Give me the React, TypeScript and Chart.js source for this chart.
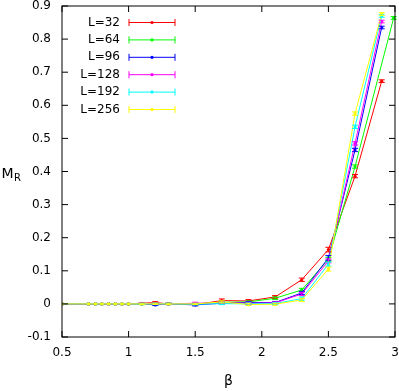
import React, { useEffect, useRef } from "react";
import { Chart, registerables } from "chart.js";

Chart.register(...registerables);

// ---- data ----
const betaCommon = [0.5, 0.7, 0.75, 0.8, 0.85, 0.9, 0.95, 1.0, 1.1, 1.2, 1.3, 1.5, 1.7, 1.9, 2.1, 2.3, 2.5, 2.7, 2.9];
const betaL64 = [0.5, 0.7, 0.75, 0.8, 0.85, 0.9, 0.95, 1.0, 1.1, 1.2, 1.3, 1.5, 1.7, 1.9, 2.1, 2.3, 2.5, 2.7, 2.99];

const seriesLabels = ["L=32", "L=64", "L=96", "L=128", "L=192", "L=256"];
const seriesColors = ["#ff0000", "#00ff00", "#0000ff", "#ff00ff", "#00ffff", "#ffff00"];

const mL32 = [0, 0, 0, 0, 0, 0, 0, 0, 0.002, 0.004, 0.0, -0.002, 0.010, 0.009, 0.021, 0.073, 0.164, 0.386, 0.673];
const mL64 = [0, 0, 0, 0, 0, 0, 0, 0, 0.0, 0.001, 0.0, 0.0, 0.005, 0.006, 0.017, 0.042, 0.135, 0.415, 0.864];
const mL96 = [0, 0, 0, 0, 0, 0, 0, 0, 0.0, -0.003, 0.0, -0.003, 0.002, 0.004, 0.004, 0.033, 0.139, 0.465, 0.835];
const mL128 = [0, 0, 0, 0, 0, 0, 0, 0, 0.001, 0.001, 0.0, 0.002, 0.003, 0.002, 0.003, 0.030, 0.130, 0.485, 0.853];
const mL192 = [0, 0, 0, 0, 0, 0, 0, 0, 0.0, 0.0, 0.0, -0.001, 0.001, 0.0, 0.001, 0.016, 0.120, 0.535, 0.870];
const mL256 = [0, 0, 0, 0, 0, 0, 0, 0, 0.0, 0.0, 0.0, 0.0, 0.006, -0.002, -0.001, 0.012, 0.105, 0.575, 0.876];

const eL32 = [0, 0, 0, 0, 0, 0, 0, 0, 0.002, 0.003, 0.002, 0.003, 0.005, 0.004, 0.004, 0.005, 0.007, 0.005, 0.004];
const eL64 = [0, 0, 0, 0, 0, 0, 0, 0, 0.002, 0.002, 0.002, 0.003, 0.003, 0.003, 0.004, 0.005, 0.006, 0.005, 0.004];
const eL96 = [0, 0, 0, 0, 0, 0, 0, 0, 0.002, 0.002, 0.002, 0.003, 0.003, 0.003, 0.003, 0.005, 0.007, 0.005, 0.004];
const eL128 = [0, 0, 0, 0, 0, 0, 0, 0, 0.002, 0.002, 0.002, 0.003, 0.003, 0.003, 0.003, 0.005, 0.006, 0.005, 0.004];
const eL192 = [0, 0, 0, 0, 0, 0, 0, 0, 0.002, 0.002, 0.002, 0.002, 0.003, 0.003, 0.003, 0.005, 0.006, 0.005, 0.004];
const eL256 = [0, 0, 0, 0, 0, 0, 0, 0, 0.002, 0.002, 0.002, 0.002, 0.003, 0.003, 0.003, 0.005, 0.006, 0.005, 0.004];

const xTicks = [0.5, 1, 1.5, 2, 2.5, 3];
const yTicks = [-0.1, 0, 0.1, 0.2, 0.3, 0.4, 0.5, 0.6, 0.7, 0.8, 0.9];

const seriesBeta = [betaCommon, betaL64, betaCommon, betaCommon, betaCommon, betaCommon];
const seriesM = [mL32, mL64, mL96, mL128, mL192, mL256];
const seriesE = [eL32, eL64, eL96, eL128, eL192, eL256];

const FONT = "'DejaVu Sans', sans-serif";

function fmt(v: number) {
  const r = Math.round(v * 10) / 10;
  return Math.abs(r) < 1e-9 ? "0" : String(r);
}

const decorPlugin = {
  id: "decor",
  afterDatasetsDraw(chart: any) {
    const ctx = chart.ctx;
    const xs = chart.scales.x;
    const ys = chart.scales.y;
    ctx.save();
    ctx.lineWidth = 1;
    for (let i = 0; i < seriesLabels.length; i++) {
      ctx.strokeStyle = seriesColors[i];
      const b = seriesBeta[i], m = seriesM[i], e = seriesE[i];
      for (let j = 0; j < b.length; j++) {
        if (!e[j]) continue;
        const px = xs.getPixelForValue(b[j]);
        const y1 = ys.getPixelForValue(m[j] - e[j]);
        const y2 = ys.getPixelForValue(m[j] + e[j]);
        ctx.beginPath();
        ctx.moveTo(px, y1);
        ctx.lineTo(px, y2);
        ctx.moveTo(px - 3, y1);
        ctx.lineTo(px + 3, y1);
        ctx.moveTo(px - 3, y2);
        ctx.lineTo(px + 3, y2);
        ctx.stroke();
      }
    }
    ctx.restore();
  },
  afterDraw(chart: any) {
    const ctx = chart.ctx;
    const a = chart.chartArea;
    const xs = chart.scales.x;
    const ys = chart.scales.y;
    ctx.save();
    // border
    ctx.strokeStyle = "#000";
    ctx.lineWidth = 1;
    ctx.strokeRect(a.left, a.top, a.right - a.left, a.bottom - a.top);
    // inward ticks
    ctx.beginPath();
    const tl = 6;
    yTicks.forEach((v) => {
      const py = ys.getPixelForValue(v);
      ctx.moveTo(a.left, py);
      ctx.lineTo(a.left + tl, py);
      ctx.moveTo(a.right, py);
      ctx.lineTo(a.right - tl, py);
    });
    xTicks.forEach((v) => {
      const px = xs.getPixelForValue(v);
      ctx.moveTo(px, a.bottom);
      ctx.lineTo(px, a.bottom - tl);
      ctx.moveTo(px, a.top);
      ctx.lineTo(px, a.top + tl);
    });
    ctx.stroke();

    // legend (gnuplot style)
    ctx.font = `12px ${FONT}`;
    ctx.textAlign = "right";
    ctx.textBaseline = "middle";
    for (let i = 0; i < seriesLabels.length; i++) {
      const y = 22.5 + i * 17.4;
      ctx.fillStyle = "#000";
      ctx.fillText(seriesLabels[i], 120, y);
      ctx.strokeStyle = seriesColors[i];
      ctx.lineWidth = 1;
      ctx.beginPath();
      ctx.moveTo(129, y);
      ctx.lineTo(175, y);
      ctx.moveTo(129, y - 3.5);
      ctx.lineTo(129, y + 3.5);
      ctx.moveTo(175, y - 3.5);
      ctx.lineTo(175, y + 3.5);
      ctx.stroke();
      ctx.fillStyle = seriesColors[i];
      ctx.beginPath();
      ctx.arc(152, y, 1.6, 0, Math.PI * 2);
      ctx.fill();
    }

    // axis titles
    ctx.fillStyle = "#000";
    ctx.textAlign = "center";
    ctx.textBaseline = "middle";
    ctx.font = `14px ${FONT}`;
    ctx.fillText("β", (a.left + a.right) / 2, 381);
    ctx.textAlign = "left";
    ctx.textBaseline = "alphabetic";
    ctx.font = `14px ${FONT}`;
    ctx.fillText("M", 1.5, 177.5);
    const mw = ctx.measureText("M").width;
    ctx.font = `10px ${FONT}`;
    ctx.fillText("R", 1.5 + mw + 0.5, 180.5);
    ctx.restore();
  },
};

export default function App() {
  const ref = useRef<HTMLCanvasElement | null>(null);
  useEffect(() => {
    document.body.style.margin = "0";
    const canvas = ref.current;
    if (!canvas) return;
    const datasets = seriesLabels.map((label, i) => ({
      label,
      data: seriesBeta[i].map((b, j) => ({ x: b, y: seriesM[i][j] })),
      borderColor: seriesColors[i],
      backgroundColor: seriesColors[i],
      borderWidth: 1,
      pointRadius: 1.6,
      pointBorderWidth: 0,
      pointHoverRadius: 1.6,
      tension: 0,
      fill: false,
      order: seriesLabels.length - 1 - i,
    }));
    const chart = new Chart(canvas, {
      type: "line",
      data: { datasets },
      options: {
        animation: false,
        responsive: false,
        devicePixelRatio: 1,
        layout: { padding: { top: 6, right: 4, left: 0, bottom: 0 } },
        plugins: { legend: { display: false }, tooltip: { enabled: false } },
        scales: {
          x: {
            type: "linear",
            min: 0.5,
            max: 3,
            afterFit: (s: any) => {
              s.height = 54;
              s.paddingLeft = 0;
              s.paddingRight = 0;
            },
            afterBuildTicks: (s: any) => {
              s.ticks = xTicks.map((v) => ({ value: v }));
            },
            grid: { display: false, drawTicks: false },
            border: { display: false },
            ticks: {
              padding: 9,
              color: "#000",
              font: { family: FONT, size: 12 },
              maxRotation: 0,
              autoSkip: false,
              callback: (v: any) => fmt(Number(v)),
            },
          },
          y: {
            type: "linear",
            min: -0.1,
            max: 0.9,
            afterFit: (s: any) => {
              s.width = 62;
              s.paddingTop = 0;
              s.paddingBottom = 0;
            },
            afterBuildTicks: (s: any) => {
              s.ticks = yTicks.map((v) => ({ value: v }));
            },
            grid: { display: false, drawTicks: false },
            border: { display: false },
            ticks: {
              padding: 11,
              color: "#000",
              font: { family: FONT, size: 12 },
              autoSkip: false,
              callback: (v: any) => fmt(Number(v)),
            },
          },
        },
      },
      plugins: [decorPlugin],
    } as any);
    return () => chart.destroy();
  }, []);
  return (
    <div style={{ width: 399, height: 391 }}>
      <canvas ref={ref} width={399} height={391} style={{ width: 399, height: 391, display: "block" }} />
    </div>
  );
}
